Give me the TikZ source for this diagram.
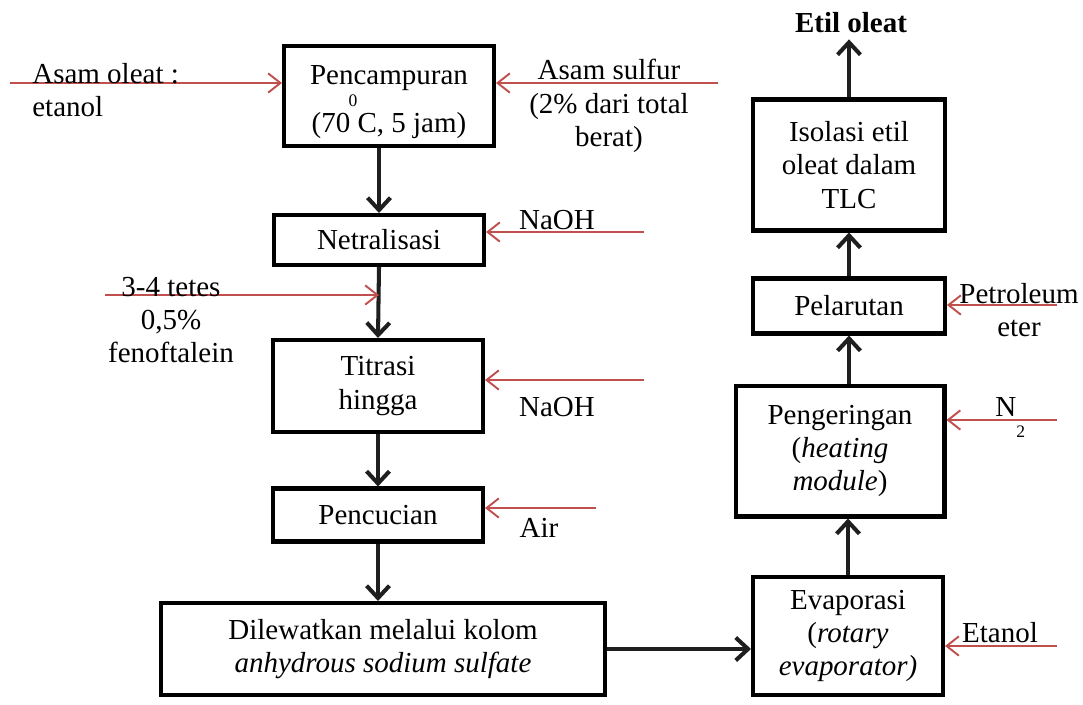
\documentclass[tikz,border=0pt]{standalone}
\usepackage{fontspec}
\setmainfont{Liberation Serif}
\usepackage{tikz}
\usetikzlibrary{arrows.meta}
\definecolor{feedred}{RGB}{192,80,77}

\begin{document}
\begin{tikzpicture}[x=0.02cm,y=-0.02cm,font=\fontsize{16.5}{19}\selectfont,
  box/.style={draw,line width=2.3pt,align=center,inner sep=0pt},
  flow/.style={draw=black!88,line width=2.3pt,-{Straight Barb[length=7pt,width=13pt]}},
  feed/.style={draw=feedred,line width=1.1pt,-{Straight Barb[length=7pt,width=11pt]}},
  lbl/.style={align=center,inner sep=0pt}]
   \useasboundingbox (0,0) rectangle (1083,704);
   % process boxes, left column
   \node[box,minimum width=4.2cm,minimum height=2cm] (mix) at (389,96) {\rule{0pt}{0.62cm}Pencampuran\\[0.28cm](70 C, 5 jam)};
   \node[font=\fontsize{10}{12}\selectfont,inner sep=0pt] (deg) at (353,101) {0};
   \node[box,minimum width=4.2cm,minimum height=1cm] (neut) at (379,240) {Netralisasi};
   \node[box,minimum width=4.2cm,minimum height=1.84cm] (titr) at (378,386) {Titrasi\\hingga};
   \node[box,minimum width=4.2cm,minimum height=1.06cm] (wash) at (378,515) {Pencucian};
   \node[box,minimum width=8.88cm,minimum height=1.84cm] (kolom) at (383,649) {Dilewatkan melalui kolom\\\textit{anhydrous sodium sulfate}};
   % process boxes, right column
   \node[box,minimum width=3.8cm,minimum height=2.36cm] (evap) at (848,636) {Evaporasi\\(\textit{rotary}\\\textit{evaporator)}};
   \node[box,minimum width=4.18cm,minimum height=2.62cm] (dryer) at (840,451) {Pengeringan\\(\textit{heating}\\\textit{module})};
   \node[box,minimum width=3.84cm,minimum height=1.1cm] (solv) at (849,306) {Pelarutan};
   \node[box,minimum width=3.84cm,minimum height=2.62cm] (tlc) at (849,165) {Isolasi etil\\oleat dalam\\TLC};
   \node (prod) at (851,23) {\textbf{Etil oleat}};
   % main flow
   \draw[flow] (mix.south -| neut.north) -- (neut.north);
   \draw[flow] (neut.south) -- (titr.north);
   \draw[flow] (titr.south) -- (wash.north);
   \draw[flow] (wash.south) -- (wash.south |- kolom.north);
   \draw[flow] (kolom.east) -- (kolom.east -| evap.west);
   \draw[flow] (evap.north) -- (evap.north |- dryer.south);
   \draw[flow] (dryer.north -| solv.south) -- (solv.south);
   \draw[flow] (solv.north) -- (tlc.south);
   \draw[flow] (tlc.north) -- (tlc.north |- prod.south);
   % feeds
   \coordinate (oleatIn) at (10,83);
   \draw[feed] (oleatIn) -- (oleatIn -| mix.west);
   \node[lbl,align=left,anchor=west] (oleat) at (32,90) {Asam oleat :\\etanol};
   \coordinate (sulfurIn) at (718,83);
   \draw[feed] (sulfurIn) -- (sulfurIn -| mix.east);
   \node[lbl] (sulfur) at (609,106) {Asam sulfur\\(2\% dari total\\berat)};
   \coordinate (naohIn) at (644,232);
   \draw[feed] (naohIn) -- (naohIn -| neut.east);
   \node[lbl] (naoh) at (557,220) {NaOH};
   \coordinate (ppIn) at (105,295);
   \draw[feed] (ppIn) -- (ppIn -| neut.south);
   \node[lbl] (pp) at (171,320) {3-4 tetes\\0,5\%\\fenoftalein};
   \coordinate (titrIn) at (644,380);
   \draw[feed] (titrIn) -- (titrIn -| titr.east);
   \node[lbl] (naohB) at (557,407) {NaOH};
   \coordinate (airIn) at (596,508);
   \draw[feed] (airIn) -- (airIn -| wash.east);
   \node[lbl] (air) at (539,528) {Air};
   \coordinate (eterIn) at (1057,305);
   \draw[feed] (eterIn) -- (eterIn -| solv.east);
   \node[lbl] (eter) at (1019,310) {Petroleum\\eter};
   \coordinate (nitroIn) at (1057,420);
   \draw[feed] (nitroIn) -- (nitroIn -| dryer.east);
   \node[lbl,anchor=base west] (nitro) at (995,416) {N\raisebox{-12pt}{\fontsize{10}{12}\selectfont 2}};
   \coordinate (etIn) at (1057,646);
   \draw[feed] (etIn) -- (etIn -| evap.east);
   \node[lbl] (etanol) at (1000,633) {Etanol};
\end{tikzpicture}
\end{document}
